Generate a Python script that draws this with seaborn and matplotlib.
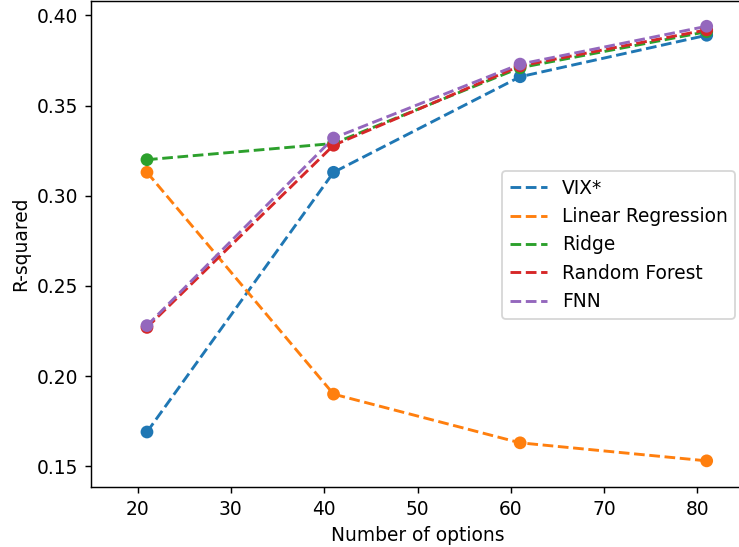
import numpy as np
import pandas as pd
import seaborn as sns
import matplotlib
matplotlib.use('Agg')
import matplotlib.pyplot as plt

# numero de opcoes usadas em cada experimento
n_options = [21, 41, 61, 81]

# R-squared
vix = [0.169, 0.313, 0.366, 0.389]
linear_reg = [0.313, 0.190, 0.163, 0.153]
ridge = [0.320, 0.329, 0.371, 0.391]
random_forest = [0.227, 0.328, 0.372, 0.392]
fnn = [0.228, 0.332, 0.373, 0.394]

model_names = ['VIX*', 'Linear Regression', 'Ridge', 'Random Forest', 'FNN']
model_values = [vix, linear_reg, ridge, random_forest, fnn]

colors = sns.color_palette('tab10', 5)
plt.rcParams['font.size'] = 10.3

fig, ax = plt.subplots(figsize=(739 / 130, 547 / 130), dpi=130)
# o eixo passa um pouco da borda direita da imagem (recorte original)
fig.subplots_adjust(left=91 / 739, right=744 / 739, top=1 - 1 / 547, bottom=1 - 487 / 547)

for nome, vals, cor in zip(model_names, model_values, colors):
    df = pd.DataFrame({'n': n_options, 'r2': vals})
    sns.lineplot(data=df, x='n', y='r2', linestyle='--', color=cor, label=nome,
                 linewidth=1.6, ax=ax)
    sns.scatterplot(data=df, x='n', y='r2', color=cor, s=50, edgecolor='none',
                    legend=False, ax=ax, zorder=3)

ax.set_xlim(15, 85)
ax.set_ylim(0.1385, 0.408)
ax.set_xticks([20, 30, 40, 50, 60, 70, 80])
ax.set_yticks([0.15, 0.20, 0.25, 0.30, 0.35, 0.40])
ax.set_yticklabels(['%.2f' % v for v in [0.15, 0.20, 0.25, 0.30, 0.35, 0.40]])
ax.set_xlabel('Number of options')
ax.set_ylabel('R-squared')
ax.legend(loc='center right', bbox_to_anchor=(735 / 739, 1 - 245 / 547),
          bbox_transform=fig.transFigure, borderaxespad=0)

fig.savefig('out.png', dpi=130)
